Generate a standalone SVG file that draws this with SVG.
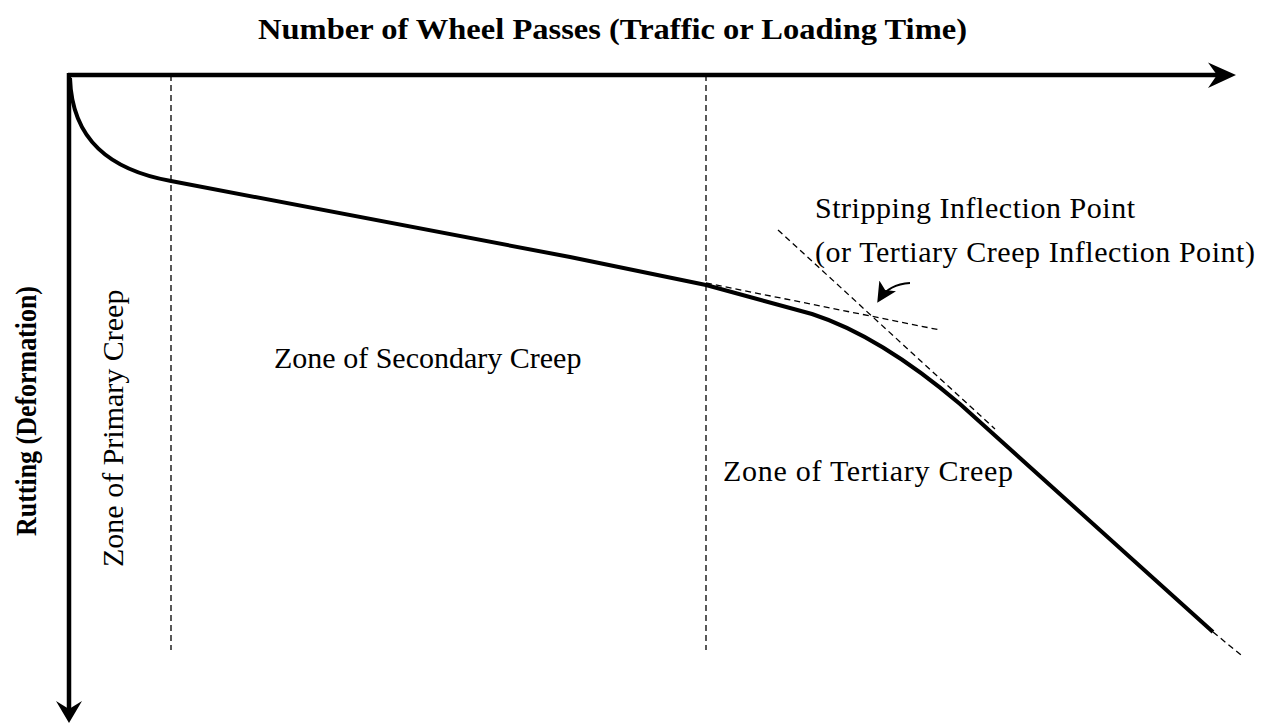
<svg xmlns="http://www.w3.org/2000/svg" width="1261" height="725" viewBox="0 0 1261 725">
<style>
.axis{stroke:#000;stroke-width:4.5;fill:none}
.curve{stroke:#000;stroke-width:4;fill:none;stroke-linejoin:round}
.dash{stroke:#000;stroke-width:1.3;fill:none;stroke-dasharray:6,4}
.lbl{font-family:"Liberation Serif","Times New Roman",serif;font-size:30px;fill:#000}
.bold{font-family:"Liberation Serif","Times New Roman",serif;font-size:29px;font-weight:bold;fill:#000}
</style>
<defs>
<marker id="ah" markerWidth="20" markerHeight="20" refX="10" refY="6" orient="auto" markerUnits="userSpaceOnUse" viewBox="0 0 12 12">
<path d="M0,0 L12,6 L0,12 L3,6 Z" fill="#000"/>
</marker>
</defs>
<rect width="1261" height="725" fill="#fff"/>
<g id="connectors">
<line class="axis" x1="68" y1="75" x2="1222" y2="75"/>
<path d="M1236,75 L1208,62.5 L1217,75 L1208,88 Z" fill="#000"/>
<line class="axis" x1="69" y1="73" x2="69" y2="712"/>
<path d="M69,723 L56,701 L69,709 L82,701 Z" fill="#000"/>
<line class="dash" x1="171" y1="75" x2="171" y2="650"/>
<line class="dash" x1="706" y1="75" x2="706" y2="650"/>
<line class="dash" x1="706" y1="283" x2="940" y2="330"/>
<line class="dash" x1="778" y1="230" x2="995" y2="429"/>
<line class="dash" x1="1213" y1="632" x2="1241" y2="655"/>
<path class="curve" d="M70,78 C72,140 110,170 171,181 L570,257 L706,285 L812,314 Q880,336 960,404 L1213,632"/>
<path d="M910,283 Q889,284 879,300" fill="none" stroke="#000" stroke-width="2.2" marker-end="url(#ah)"/>
</g>
<g id="title"><text class="bold" x="258" y="39" textLength="709" lengthAdjust="spacingAndGlyphs">Number  of Wheel Passes (Traffic or Loading  Time)</text></g>
<g id="y-label"><text class="bold" transform="translate(36,536) rotate(-90)" textLength="250" lengthAdjust="spacingAndGlyphs">Rutting (Deformation)</text></g>
<g id="zone-primary"><text class="lbl" transform="translate(123,567) rotate(-90)">Zone of Primary Creep</text></g>
<g id="zone-secondary"><text class="lbl" x="274" y="368">Zone of Secondary Creep</text></g>
<g id="zone-tertiary"><text class="lbl" x="723" y="481" textLength="290">Zone of Tertiary Creep</text></g>
<g id="inflection"><text class="lbl" x="815" y="218" textLength="320">Stripping Inflection Point</text><text class="lbl" x="815" y="262" textLength="440">(or Tertiary Creep Inflection Point)</text></g>
</svg>
